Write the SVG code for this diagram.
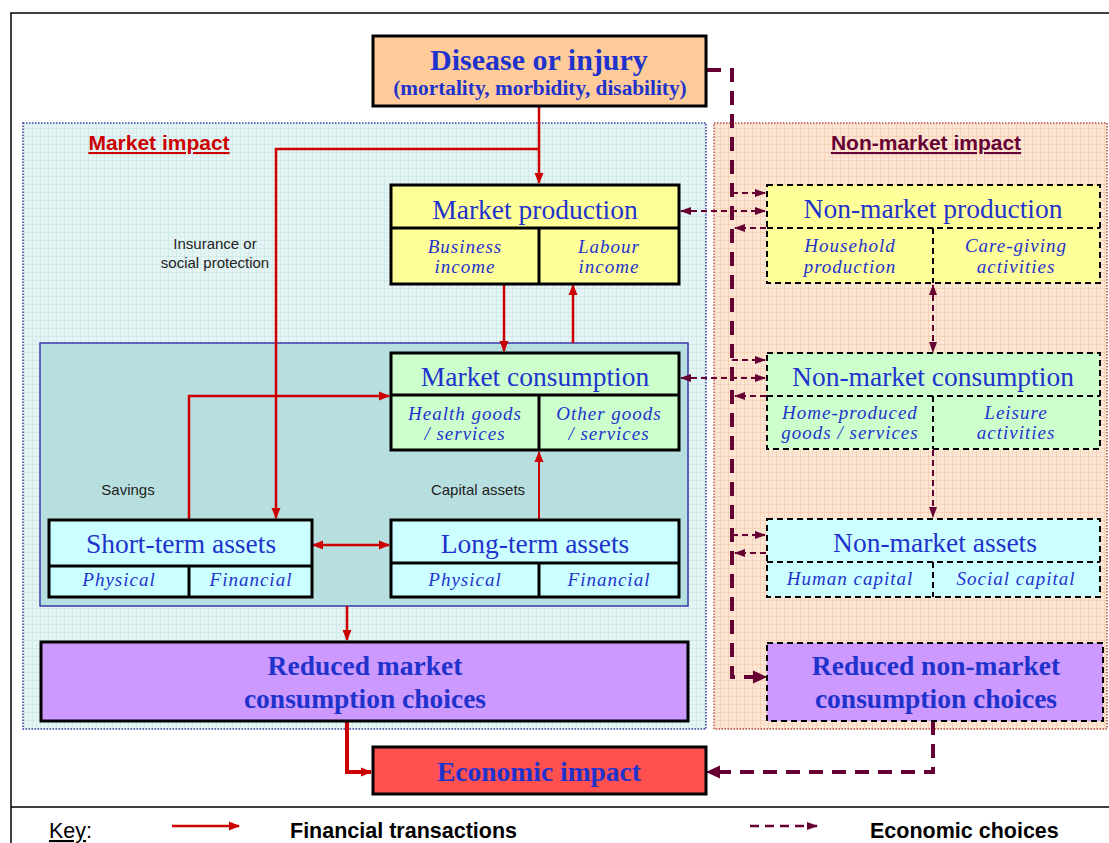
<svg xmlns="http://www.w3.org/2000/svg" width="1109" height="843" viewBox="0 0 1109 843">
  <defs>
    <pattern id="gridMarket" width="8" height="8" patternUnits="userSpaceOnUse">
      <rect width="8" height="8" fill="#e6f5f5"/>
      <path d="M0,0.5 H8 M0.5,0 V8" stroke="#cfe8e8" stroke-width="1"/>
      <path d="M0,4.5 H8 M4.5,0 V8" stroke="#dbefef" stroke-width="1"/>
    </pattern>
    <pattern id="gridNonMarket" width="8" height="8" patternUnits="userSpaceOnUse">
      <rect width="8" height="8" fill="#fde7d6"/>
      <path d="M0,0.5 H8 M0.5,0 V8" stroke="#f6d0b4" stroke-width="1"/>
      <path d="M0,4.5 H8 M4.5,0 V8" stroke="#fadcc6" stroke-width="1"/>
    </pattern>
    <marker id="arrRed" markerUnits="userSpaceOnUse" markerWidth="11" markerHeight="10" refX="10" refY="5" orient="auto-start-reverse">
      <path d="M0,0.5 L11,5 L0,9.5 z" fill="#cc0000"/>
    </marker>
    <marker id="arrMaroon" markerUnits="userSpaceOnUse" markerWidth="11" markerHeight="10" refX="10" refY="5" orient="auto-start-reverse">
      <path d="M0,1 L11,5 L0,9 z" fill="#660033"/>
    </marker>
    <marker id="arrMaroonBig" markerUnits="userSpaceOnUse" markerWidth="14" markerHeight="14" refX="13" refY="7" orient="auto-start-reverse">
      <path d="M0,0.5 L14,7 L0,13.5 z" fill="#660033"/>
    </marker>
  </defs>
  <style>
    .box { stroke: #000; stroke-width: 3; }
    .dbox { stroke: #000; stroke-width: 2; stroke-dasharray: 6 4; }
    .div { stroke: #000; stroke-width: 3; fill: none; }
    .ddiv { stroke: #000; stroke-width: 2; stroke-dasharray: 6 4; fill: none; }
    .title { font-family: "Liberation Serif", "Times New Roman", serif; font-size: 27.5px; fill: #1f33cc; text-anchor: middle; }
    .btitle { font-family: "Liberation Serif", "Times New Roman", serif; font-size: 27.5px; font-weight: bold; fill: #1f33cc; text-anchor: middle; }
    .sub { font-family: "Liberation Serif", "Times New Roman", serif; font-size: 19px; font-style: italic; letter-spacing: 1px; fill: #1f33cc; text-anchor: middle; }
    .lbl { font-family: "Liberation Sans", Arial, sans-serif; font-size: 15px; fill: #222; text-anchor: middle; }
    .region-lbl { font-family: "Liberation Sans", Arial, sans-serif; font-size: 21px; font-weight: bold; text-decoration: underline; text-anchor: middle; }
    .key { font-family: "Liberation Sans", Arial, sans-serif; font-size: 21.5px; fill: #000; }
    .fin { stroke: #cc0000; stroke-width: 2.5; fill: none; marker-end: url(#arrRed); }
    .eco { stroke: #660033; stroke-width: 2; stroke-dasharray: 6 4; fill: none; marker-end: url(#arrMaroon); }
    .ecoThick { stroke: #660033; stroke-width: 4; stroke-dasharray: 14 9; fill: none; }
  </style>

  <!-- page frame -->
  <g id="frame" stroke="#000" stroke-width="1.5" fill="none">
    <path d="M11,843 V13 H1109"/>
    <path d="M11,807 H1109"/>
  </g>

  <!-- impact regions -->
  <g id="region-market">
    <rect x="23" y="123" width="683" height="606" fill="url(#gridMarket)" stroke="#3a3a9e" stroke-width="1.5" stroke-dasharray="1.5 1.5"/>
    <text class="region-lbl" x="159" y="150" fill="#cc0000">Market impact</text>
  </g>
  <g id="region-nonmarket">
    <rect x="714" y="123" width="393" height="606" fill="url(#gridNonMarket)" stroke="#b4524a" stroke-width="1.5" stroke-dasharray="1.5 1.5"/>
    <text class="region-lbl" x="926" y="150" fill="#660033">Non-market impact</text>
  </g>
  <g id="consumption-area">
    <rect x="40" y="343" width="648" height="263" fill="#b8dfe0" stroke="#3a3aa8" stroke-width="1.5"/>
  </g>

  <!-- connectors -->
  <g id="connectors">
    <!-- financial transactions -->
    <path class="fin" d="M539,107 V183"/>
    <path class="fin" d="M539,149 H276 V518"/>
    <path class="fin" d="M504,284 V351"/>
    <path class="fin" d="M573,343 V285"/>
    <path class="fin" d="M189,519 V396 H389"/>
    <path class="fin" d="M313,545 H389" marker-start="url(#arrRed)"/>
    <path class="fin" d="M539,519 V452" style="stroke-width:2"/>
    <path class="fin" d="M347,606 V640"/>
    <path class="fin" d="M347,722 V772 H371" style="stroke-width:4"/>

    <!-- economic choices -->
    <path class="ecoThick" d="M707,70 H732 V677 H758"/>
    <path d="M756,677 H766" stroke="#660033" stroke-width="2" marker-end="url(#arrMaroonBig)"/>
    <path class="eco" d="M732,193 H765"/>
    <path class="eco" d="M681,211 H765" marker-start="url(#arrMaroon)"/>
    <path class="eco" d="M766,228 H735"/>
    <path class="eco" d="M732,360 H765"/>
    <path class="eco" d="M681,378 H765" marker-start="url(#arrMaroon)"/>
    <path class="eco" d="M766,396 H735"/>
    <path class="eco" d="M732,535 H765"/>
    <path class="eco" d="M766,553 H735"/>
    <path class="eco" d="M933,285 V352" marker-start="url(#arrMaroon)"/>
    <path class="eco" d="M933,450 V517"/>
    <path class="ecoThick" d="M933,721 V772 H716"/>
    <path d="M718,772 H707" stroke="#660033" stroke-width="2" marker-end="url(#arrMaroonBig)"/>
  </g>

  <!-- connector labels -->
  <g id="labels">
    <text class="lbl" x="215" y="249">Insurance or</text>
    <text class="lbl" x="215" y="268">social protection</text>
    <text class="lbl" x="128" y="495">Savings</text>
    <text class="lbl" x="478" y="495">Capital assets</text>
  </g>

  <g id="disease">
    <rect class="box" x="373" y="36" width="333" height="70" fill="#ffcc99"/>
    <text class="btitle" x="539" y="70" style="font-size:30px">Disease or injury</text>
    <text class="btitle" x="540" y="95" style="font-size:21.3px">(mortality, morbidity, disability)</text>
  </g>

  <g id="market-production">
    <rect class="box" x="391" y="185" width="288" height="99" fill="#ffff99"/>
    <path class="div" d="M391,228 H679 M539,228 V284"/>
    <text class="title" x="535" y="219">Market production</text>
    <text class="sub" x="465" y="253">Business</text>
    <text class="sub" x="465" y="273">income</text>
    <text class="sub" x="609" y="253">Labour</text>
    <text class="sub" x="609" y="273">income</text>
  </g>

  <g id="nonmarket-production">
    <rect class="dbox" x="767" y="185" width="333" height="98" fill="#ffff99"/>
    <path class="ddiv" d="M767,228 H1100 M933,228 V283"/>
    <text class="title" x="933" y="218">Non-market production</text>
    <text class="sub" x="850" y="252">Household</text>
    <text class="sub" x="850" y="273">production</text>
    <text class="sub" x="1016" y="252">Care-giving</text>
    <text class="sub" x="1016" y="273">activities</text>
  </g>

  <g id="market-consumption">
    <rect class="box" x="391" y="353" width="288" height="97" fill="#ccffcc"/>
    <path class="div" d="M391,395 H679 M539,395 V450"/>
    <text class="title" x="535" y="386">Market consumption</text>
    <text class="sub" x="465" y="420">Health goods</text>
    <text class="sub" x="465" y="440">/ services</text>
    <text class="sub" x="609" y="420">Other goods</text>
    <text class="sub" x="609" y="440">/ services</text>
  </g>

  <g id="nonmarket-consumption">
    <rect class="dbox" x="767" y="353" width="333" height="96" fill="#ccffcc"/>
    <path class="ddiv" d="M767,396 H1100 M933,396 V449"/>
    <text class="title" x="933" y="386">Non-market consumption</text>
    <text class="sub" x="850" y="419">Home-produced</text>
    <text class="sub" x="850" y="439">goods / services</text>
    <text class="sub" x="1016" y="419">Leisure</text>
    <text class="sub" x="1016" y="439">activities</text>
  </g>

  <g id="short-term-assets">
    <rect class="box" x="49" y="520" width="263" height="77" fill="#ccffff"/>
    <path class="div" d="M49,566 H312 M189,566 V597"/>
    <text class="title" x="181" y="553">Short-term assets</text>
    <text class="sub" x="119" y="586">Physical</text>
    <text class="sub" x="251" y="586">Financial</text>
  </g>

  <g id="long-term-assets">
    <rect class="box" x="391" y="520" width="288" height="77" fill="#ccffff"/>
    <path class="div" d="M391,563 H679 M539,563 V597"/>
    <text class="title" x="535" y="553">Long-term assets</text>
    <text class="sub" x="465" y="586">Physical</text>
    <text class="sub" x="609" y="586">Financial</text>
  </g>

  <g id="nonmarket-assets">
    <rect class="dbox" x="767" y="519" width="333" height="78" fill="#ccffff"/>
    <path class="ddiv" d="M767,562 H1100 M933,562 V597"/>
    <text class="title" x="935" y="552">Non-market assets</text>
    <text class="sub" x="850" y="585">Human capital</text>
    <text class="sub" x="1016" y="585">Social capital</text>
  </g>

  <g id="reduced-market">
    <rect class="box" x="41" y="642" width="647" height="79" fill="#cc99ff"/>
    <text class="btitle" x="365" y="675">Reduced market</text>
    <text class="btitle" x="365" y="708">consumption choices</text>
  </g>

  <g id="reduced-nonmarket">
    <rect class="dbox" x="767" y="643" width="336" height="78" fill="#cc99ff"/>
    <text class="btitle" x="936" y="675">Reduced non-market</text>
    <text class="btitle" x="936" y="708">consumption choices</text>
  </g>

  <g id="economic-impact">
    <rect class="box" x="373" y="747" width="333" height="47" fill="#ff5050"/>
    <text class="btitle" x="539" y="781">Economic impact</text>
  </g>

  <!-- legend -->
  <g id="key">
    <text class="key" x="49" y="838"><tspan text-decoration="underline">Key</tspan>:</text>
    <path d="M172,826 H239" stroke="#cc0000" stroke-width="2.5" marker-end="url(#arrRed)"/>
    <text class="key" x="290" y="838" font-weight="bold">Financial transactions</text>
    <path d="M750,826 H817" stroke="#660033" stroke-width="2.5" stroke-dasharray="9 6" marker-end="url(#arrMaroon)"/>
    <text class="key" x="870" y="838" font-weight="bold">Economic choices</text>
  </g>
</svg>
